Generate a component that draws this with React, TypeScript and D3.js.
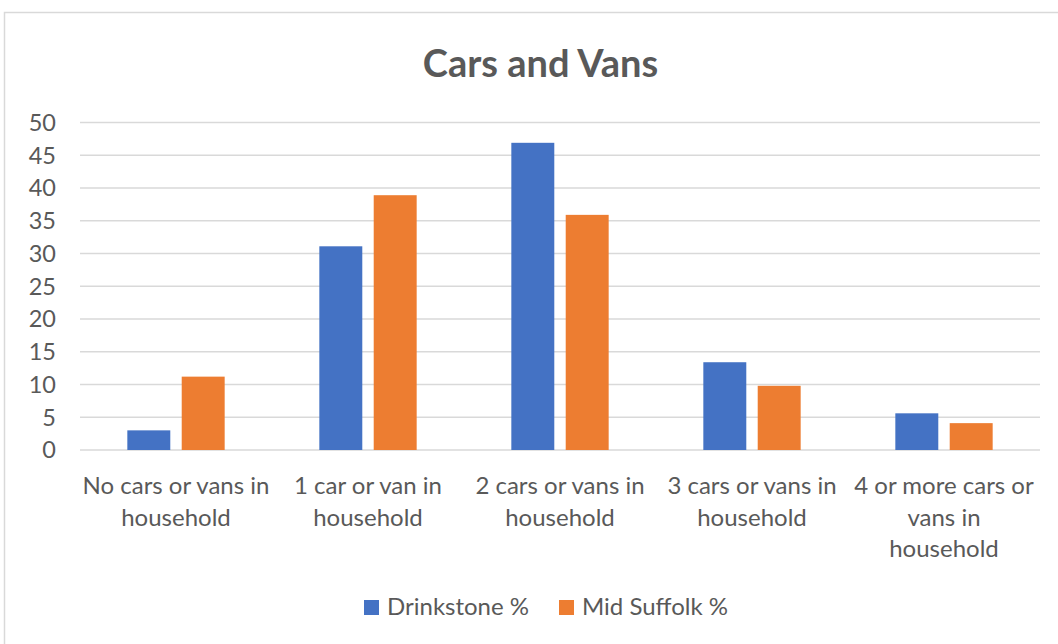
import React from "react";
import * as d3 from "d3";

const categories = [
  ["No cars or vans in", "household"],
  ["1 car or van in", "household"],
  ["2 cars or vans in", "household"],
  ["3 cars or vans in", "household"],
  ["4 or more cars or", "vans in", "household"],
];
const seriesNames = ["Drinkstone %", "Mid Suffolk %"];
const drinkstone = [3.0, 31.1, 46.9, 13.4, 5.6];
const midSuffolk = [11.2, 38.9, 35.9, 9.8, 4.1];
const yTicks = [0, 5, 10, 15, 20, 25, 30, 35, 40, 45, 50];
const colors = ["#4472C4", "#ED7D31"];

const W = 1058;
const H = 644;
const FONT = "Lato, 'Open Sans', sans-serif";
const TXT = "#595959";

export default function App() {
  const values = [drinkstone, midSuffolk];
  const idx = categories.map((_, i) => i);
  const x0 = d3
    .scaleBand<number>()
    .domain(idx)
    .range([80, 1040])
    .paddingInner(0.493)
    .paddingOuter(0.2465);
  const x1 = d3
    .scaleBand<number>()
    .domain([0, 1])
    .range([0, x0.bandwidth()])
    .paddingInner(0.21);
  const y = d3.scaleLinear().domain([0, 50]).range([450, 122.5]);

  return (
    <svg
      width={W}
      height={H}
      style={{ position: "absolute", left: 0, top: 0, background: "#fff" }}
      fontFamily={FONT}
    >
      <rect x={4.5} y={12.5} width={W + 10} height={H + 10} fill="#fff" stroke="#d9d9d9" strokeWidth={1.5} />
      <text x={540.5} y={77} textAnchor="middle" fontSize={38} fontWeight="bold" fill={TXT}>
        Cars and Vans
      </text>
      {yTicks.map((t) => (
        <g key={t}>
          <line x1={80} x2={1040} y1={y(t)} y2={y(t)} stroke="#d9d9d9" strokeWidth={1.5} />
          <text x={56} y={y(t)} dy="0.36em" textAnchor="end" fontSize={23.5} fill={TXT}>
            {t}
          </text>
        </g>
      ))}
      {idx.map((i) =>
        values.map((vals, s) => (
          <rect
            key={`${i}-${s}`}
            x={(x0(i) as number) + (x1(s) as number)}
            y={y(vals[i])}
            width={x1.bandwidth()}
            height={y(0) - y(vals[i])}
            fill={colors[s]}
          />
        ))
      )}
      {idx.map((i) => {
        const cx = (x0(i) as number) + x0.bandwidth() / 2;
        return (
          <text key={i} textAnchor="middle" fontSize={24} fill={TXT}>
            {categories[i].map((ln, k) => (
              <tspan key={k} x={cx} y={494 + k * 31.5}>
                {ln}
              </tspan>
            ))}
          </text>
        );
      })}
      {seriesNames.map((n, s) => {
        const lx = [364, 559][s];
        return (
          <g key={n}>
            <rect x={lx} y={600} width={15} height={15} fill={colors[s]} />
            <text x={lx + 23} y={615} fontSize={24} fill={TXT}>
              {n}
            </text>
          </g>
        );
      })}
    </svg>
  );
}
